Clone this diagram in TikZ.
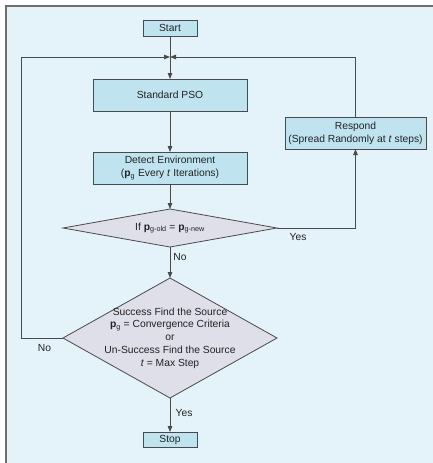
\documentclass[tikz,border=0pt]{standalone}
\usepackage{fontspec}
\setmainfont{Liberation Sans}
\usetikzlibrary{shapes.geometric,arrows.meta}
\definecolor{bgc}{HTML}{E4F3F9}
\definecolor{boxc}{HTML}{C0E4EF}
\definecolor{diac}{HTML}{DEDFE9}
\definecolor{linec}{HTML}{4A4A4A}
\definecolor{framec}{HTML}{6E6E6E}
\definecolor{txtc}{HTML}{222222}
\newcommand{\pb}{\textbf{p}}
\begin{document}
\begin{tikzpicture}[x=1pt,y=-1pt,
  every node/.style={font=\fontsize{10.3}{12.8}\selectfont, text=txtc},
  procbox/.style={draw=linec, fill=boxc, line width=0.8pt, rectangle, inner sep=0pt, outer sep=0pt, align=center},
  decbox/.style={draw=linec, fill=diac, line width=0.8pt, diamond, inner sep=0pt, outer sep=0pt},
  conn/.style={draw=linec, line width=0.8pt},
  arr/.style={conn, -{Triangle[length=6pt,width=4.5pt]}},
  lbl/.style={inner sep=0pt}
]
\useasboundingbox (0,0) rectangle (433,463);
\fill[bgc] (6,6) rectangle (440,470);
\draw[framec, line width=1.3pt] (6,470) -- (6,6) -- (440,6);

\node[procbox, minimum width=54pt, minimum height=16pt] (start) at (170,28) {Start};
\node[procbox, minimum width=154pt, minimum height=32pt] (pso) at (170,95) {Standard PSO};
\node[procbox, minimum width=141pt, minimum height=32pt] (resp) at (355.5,133) {Respond\\(Spread Randomly at \textit{t} steps)};
\node[procbox, minimum width=154pt, minimum height=32pt] (det) at (170,168) {Detect Environment\\(\pb\textsubscript{g} Every \textit{t} Iterations)};
\node[decbox, minimum width=214pt, minimum height=38pt] (d1) at (170,228) {};
\node[lbl] (d1t) at (170,228) {If \pb\textsubscript{g-old} = \pb\textsubscript{g-new}};
\node[decbox, minimum width=214pt, minimum height=120pt] (d2) at (170,338) {};
\node[lbl, align=center] (d2t) at (170,338) {Success Find the Source\\ \pb\textsubscript{g} = Convergence Criteria\\ or\\ Un-Success Find the Source\\ \textit{t} = Max Step};
\node[procbox, minimum width=54pt, minimum height=15pt] (stop) at (170,439.5) {Stop};

\coordinate (j) at (170,57);
\coordinate (lb) at (21,338);
\coordinate (lt) at (21,57);
\coordinate (rt) at (355.5,57);
\coordinate (rd) at (355.5,228);

\draw[conn] (start.south) -- (j);
\draw[arr] (j) -- (pso.north);
\draw[arr] (pso.south) -- (det.north);
\draw[arr] (det.south) -- (d1.north);
\draw[arr] (d1.south) -- (d2.north);
\draw[arr] (d2.south) -- (stop.north);
\draw[arr] (d1.east) -- (rd) -- (resp.south);
\draw[arr] (resp.north) -- (rt) -- (j);
\draw[arr] (d2.west) -- (lb) -- (lt) -- (j);

\node[lbl] (yes1) at (298,237) {Yes};
\node[lbl] (no1) at (180,257) {No};
\node[lbl] (no2) at (44.5,348) {No};
\node[lbl] (yes2) at (184,413) {Yes};
\end{tikzpicture}
\end{document}
